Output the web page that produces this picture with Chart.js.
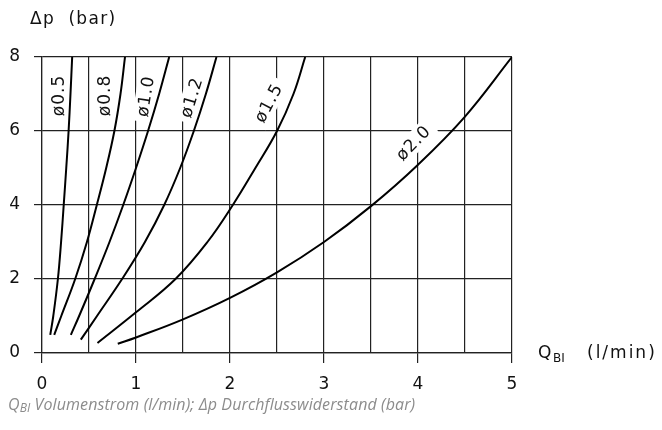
<!DOCTYPE html>
<html>
<head>
<meta charset="utf-8">
<script src="https://cdn.jsdelivr.net/npm/chart.js@4/dist/chart.umd.min.js"></script>
<style>
  html, body { margin: 0; padding: 0; background: #fff; }
  #wrap { position: relative; width: 662px; height: 430px; }
  #caption {
    position: absolute; left: 8px; top: 393px;
    font: italic 16px "Open Sans", "Noto Sans", sans-serif;
    color: #8c8c8c; white-space: nowrap; letter-spacing: 0.1px;
  }
  #caption sub { font-size: 12px; vertical-align: -2px; }
</style>
</head>
<body>
<div id="wrap">
  <canvas id="c"></canvas>
  <div id="caption">Q<sub>BI</sub> Volumenstrom (l/min); Δp Durchflusswiderstand (bar)</div>
</div>
<script>
// Nozzle diameters (mm) with flow Q (l/min) and pressure drop Δp (bar) along each curve
const diameters = ['ø0.5', 'ø0.8', 'ø1.0', 'ø1.2', 'ø1.5', 'ø2.0'];

const flow_05 = [0.088, 0.120, 0.169, 0.203, 0.231, 0.258, 0.283, 0.303, 0.321];
const dp_05   = [0.49,  1.0,   2.0,   3.0,   4.0,   5.0,   6.0,   7.0,   8.0];

const flow_08 = [0.130, 0.205, 0.353, 0.478, 0.583, 0.683, 0.770, 0.835, 0.883];
const dp_08   = [0.49,  1.0,   2.0,   3.0,   4.0,   5.0,   6.0,   7.0,   8.0];

const flow_10 = [0.307, 0.395, 0.560, 0.718, 0.864, 1.000, 1.128, 1.246, 1.353];
const dp_10   = [0.49,  1.0,   2.0,   3.0,   4.0,   5.0,   6.0,   7.0,   8.0];

const flow_12 = [0.413, 0.585, 0.852, 1.095, 1.300, 1.470, 1.615, 1.743, 1.856];
const dp_12   = [0.36,  1.0,   2.0,   3.0,   4.0,   5.0,   6.0,   7.0,   8.0];

const flow_15 = [0.59, 1.00, 1.42, 1.76, 2.03, 2.27, 2.50, 2.675, 2.80];
const dp_15   = [0.27, 1.10, 2.0,  3.0,  4.0,  5.0,  6.0,  7.0,   8.0];

const flow_20 = [0.806, 1.00, 1.50, 2.00, 2.50, 3.00, 3.50, 4.00, 4.50, 5.00];
const dp_20   = [0.25,  0.42, 0.91, 1.49, 2.18, 3.00, 3.97, 5.09, 6.39, 8.00];

const flows = [flow_05, flow_08, flow_10, flow_12, flow_15, flow_20];
const drops = [dp_05, dp_08, dp_10, dp_12, dp_15, dp_20];

// Axis ticks
const flowTicks = [0, 1, 2, 3, 4, 5];
const dpTicks = [0, 2, 4, 6, 8];

// Anchor (data units) and turn (degrees) of each diameter label
const labelAt = [
  { q: 0.176, p: 6.96, rot: -90 },
  { q: 0.671, p: 6.96, rot: -90 },
  { q: 1.10,  p: 6.94, rot: -81 },
  { q: 1.59,  p: 6.91, rot: -73 },
  { q: 2.41,  p: 6.76, rot: -62 },
  { q: 3.95,  p: 5.68, rot: -46 }
];

const INK = '#111';
const GRID = '#222';
const FONT = '"DejaVu Sans", "Liberation Sans", sans-serif';
const LABEL_FONT = '17px ' + FONT;

const datasets = diameters.map((d, i) => ({
  label: d,
  data: flows[i].map((q, k) => ({ x: q, y: drops[i][k] })),
  borderColor: '#000',
  borderWidth: 2,
  pointRadius: 0,
  fill: false,
  tension: 0.4
}));

// Diameter labels on white plates: over the grid, under the curves
const curveLabels = {
  id: 'curveLabels',
  beforeDatasetsDraw(chart) {
    const { ctx, scales: { x, y } } = chart;
    ctx.save();
    ctx.font = LABEL_FONT;
    ctx.letterSpacing = '1px';
    ctx.textAlign = 'center';
    ctx.textBaseline = 'middle';
    diameters.forEach((d, i) => {
      const a = labelAt[i];
      const px = x.getPixelForValue(a.q);
      const py = y.getPixelForValue(a.p);
      const w = ctx.measureText(d).width;
      ctx.save();
      ctx.translate(px, py);
      ctx.rotate(a.rot * Math.PI / 180);
      ctx.fillStyle = '#fff';
      ctx.fillRect(-w / 2 - 5, -10, w + 10, 20);
      ctx.fillStyle = INK;
      ctx.fillText(d, 0, 1);
      ctx.restore();
    });
    ctx.restore();
  },
  afterDraw(chart) {
    const { ctx, chartArea } = chart;
    ctx.save();
    ctx.fillStyle = INK;
    ctx.textAlign = 'left';
    ctx.textBaseline = 'middle';
    ctx.font = LABEL_FONT;
    ctx.letterSpacing = '1.3px';
    ctx.fillText('Δp  (bar)', 30, 20);

    ctx.textBaseline = 'alphabetic';
    const bx = chartArea.right + 26;
    const by = chartArea.bottom + 5;
    ctx.letterSpacing = '0px';
    ctx.fillText('Q', bx, by);
    ctx.font = '12px ' + FONT;
    ctx.fillText('BI', bx + 15, by + 4);
    ctx.font = LABEL_FONT;
    ctx.letterSpacing = '2px';
    ctx.fillText('(l/min)', bx + 49, by);
    ctx.restore();
  }
};

new Chart(document.getElementById('c'), {
  type: 'line',
  data: { datasets },
  options: {
    responsive: true,
    maintainAspectRatio: false,
    animation: false,
    events: [],
    layout: { padding: { left: 0, top: 57, right: 150, bottom: 0 } },
    plugins: { legend: { display: false }, tooltip: { enabled: false } },
    scales: {
      x: {
        type: 'linear',
        min: 0, max: 5,
        afterBuildTicks: s => {
          const t = [];
          for (let v = 0; v <= 10; v++) t.push({ value: v / 2 });
          s.ticks = t;
        },
        afterFit: s => { s.height = 77; },
        ticks: {
          autoSkip: false,
          maxRotation: 0,
          padding: 11,
          color: INK,
          font: { family: FONT, size: 17 },
          callback: v => (flowTicks.includes(v) ? String(v) : '')
        },
        grid: {
          color: GRID,
          lineWidth: 1.2,
          tickLength: 10,
          tickColor: c => (c.tick && flowTicks.includes(c.tick.value) ? GRID : 'rgba(0,0,0,0)')
        },
        border: { color: GRID, width: 1.2 }
      },
      y: {
        type: 'linear',
        min: 0, max: 8,
        afterBuildTicks: s => { s.ticks = dpTicks.map(v => ({ value: v })); },
        afterFit: s => { s.width = 42; },
        ticks: {
          padding: 14,
          color: INK,
          font: { family: FONT, size: 17 }
        },
        grid: { color: GRID, lineWidth: 1.2, tickLength: 8 },
        border: { color: GRID, width: 1.2 }
      }
    }
  },
  plugins: [curveLabels]
});
</script>
</body>
</html>
